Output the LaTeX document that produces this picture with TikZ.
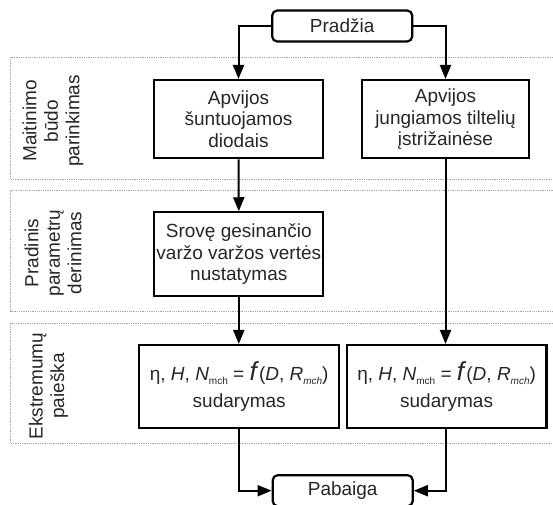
\documentclass[tikz,border=0pt]{standalone}
\usepackage{fontspec}
\setmainfont{Liberation Sans}
\usetikzlibrary{arrows.meta}
\newcommand{\mysub}[1]{\raisebox{-4pt}{\fontsize{10}{10}\selectfont #1}}
\newcommand{\formula}{η, \textit{H}, \textit{N}\mysub{mch} = {\fontsize{26}{26}\selectfont\textit{f}}(\textit{D}, \textit{R}\mysub{\itshape mch})}
\begin{document}
\begin{tikzpicture}[x=1pt,y=-1pt,
  every node/.style={font=\fontsize{19}{21.5}\selectfont,text=black!85},
  proc/.style={draw=black,line width=2.2pt,align=center,inner sep=0pt},
  term/.style={draw=black,line width=2.2pt,rounded corners=5pt,inner sep=0pt,minimum width=140pt,minimum height=31pt},
  lane/.style={draw=gray!70,line width=0.8pt,densely dotted},
  lanelabel/.style={rotate=90,align=center},
  flow/.style={line width=2pt,-{Triangle[length=14pt,width=11pt]}}]
\useasboundingbox (0,0) rectangle (553,504);
\begin{scope}
\clip (0,0) rectangle (553,504);
\draw[lane] (10.5,57.3) rectangle (600,179);
\draw[lane] (10.5,190.7) rectangle (600,311.7);
\draw[lane] (10.5,323.3) rectangle (600,443.3);
\node[lanelabel] (l1) at (53,121) {Maitinimo\\būdo\\parinkimas};
\node[lanelabel] (l2) at (53,253) {Pradinis\\parametrų\\derinimas};
\node[lanelabel] (l3) at (48.5,386) {Ekstremumų\\paieška};

\node[term] (start) at (342.2,26) {Pradžia};
\node[proc,minimum width=168.4pt,minimum height=78.3pt] (b1) at (238.5,119.2) {Apvijos\\šuntuojamos\\diodais};
\node[proc,minimum width=167.6pt,minimum height=78.3pt] (b2) at (445.5,119.2) {Apvijos\\jungiamos tiltelių\\įstrižainėse};
\node[proc,minimum width=169pt,minimum height=83.7pt] (b3) at (238.8,254.2) {Srovę gesinančio\\varžo varžos vertės\\nustatymas};
\node[proc,minimum width=199.7pt,minimum height=83.3pt] (b4) at (239.2,386.7) {\formula\\[5pt]sudarymas};
\node[proc,minimum width=199.7pt,minimum height=83.3pt] (b5) at (446.6,386.7) {\formula\\[5pt]sudarymas};
\node[term] (end) at (342.7,490.7) {Pabaiga};

\draw[flow] (start.west) -| (b1.north);
\draw[flow] (start.east) -| (b2.north);
\draw[flow] (b1.south) -- (b3.north);
\draw[flow] (b3.south) -- (b3.south |- b4.north);
\draw[flow] (b2.south) -- (b2.south |- b5.north);
\draw[flow] (b4.south -| b3.south) |- (end.west);
\draw[flow] (b5.south -| b2.south) |- (end.east);
\end{scope}
\end{tikzpicture}
\end{document}
